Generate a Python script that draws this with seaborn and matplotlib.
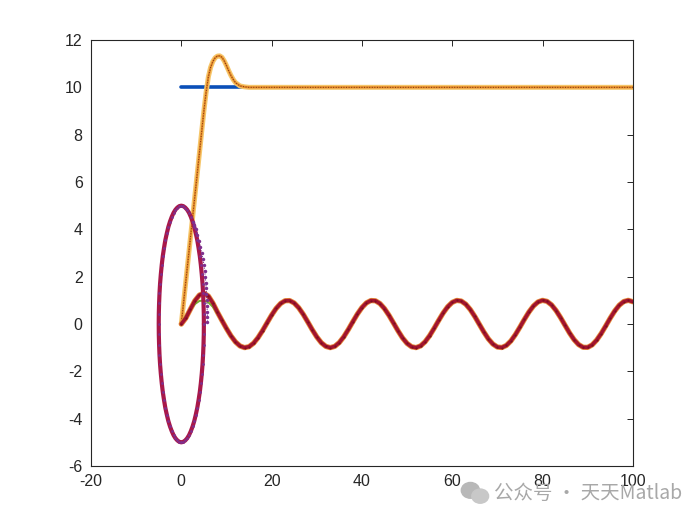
import numpy as np
import matplotlib
matplotlib.use('Agg')
import matplotlib.pyplot as plt
import seaborn as sns
from matplotlib.patches import Ellipse

# ---- data ----
# blue set-point line
ref_x = [0, 100]
ref_y = [10, 10]

# orange step response
step_x = [0, 1, 2, 3, 4, 5, 5.5, 6, 6.5, 7, 7.5, 8, 8.5, 9, 9.5, 10, 10.5, 11, 11.5, 12, 13, 14, 15, 100]
step_y = [0, 1.8, 3.6, 5.4, 7.2, 9.0, 9.8, 10.45, 10.85, 11.1, 11.25, 11.32, 11.33, 11.27, 11.12, 10.92,
          10.7, 10.5, 10.33, 10.2, 10.06, 10.02, 10.0, 10.0]

# sine reference (green) and tracked sine (red), x = 0..100
sine_x = list(range(0, 101))
sine_ref = [0.000, 0.327, 0.618, 0.841, 0.972, 0.995, 0.909, 0.723, 0.457, 0.141,
            -0.190, -0.502, -0.757, -0.929, -0.999, -0.959, -0.813, -0.576, -0.279, 0.050,
            0.374, 0.657, 0.867, 0.983, 0.989, 0.887, 0.687, 0.412, 0.091, -0.240,
            -0.544, -0.790, -0.946, -1.000, -0.944, -0.783, -0.537, -0.231, 0.100, 0.420,
            0.694, 0.892, 0.991, 0.981, 0.863, 0.650, 0.366, 0.041, -0.288, -0.588,
            -0.820, -0.961, -0.998, -0.926, -0.751, -0.494, -0.181, 0.150, 0.465, 0.729,
            0.913, 0.996, 0.970, 0.837, 0.612, 0.319, -0.009, -0.335, -0.627, -0.846,
            -0.974, -0.994, -0.906, -0.717, -0.448, -0.132, 0.199, 0.509, 0.762, 0.932,
            0.999, 0.956, 0.808, 0.570, 0.271, -0.058, -0.382, -0.663, -0.871, -0.984,
            -0.988, -0.883, -0.680, -0.404, -0.083, 0.248, 0.551, 0.794, 0.949, 1.000,
            0.941]
sine_out = [0.000, 0.250, 0.620, 0.980, 1.220, 1.300, 1.180, 0.880, 0.500, 0.150,
            -0.190, -0.502, -0.757, -0.929, -0.999, -0.959, -0.813, -0.576, -0.279, 0.050,
            0.374, 0.657, 0.867, 0.983, 0.989, 0.887, 0.687, 0.412, 0.091, -0.240,
            -0.544, -0.790, -0.946, -1.000, -0.944, -0.783, -0.537, -0.231, 0.100, 0.420,
            0.694, 0.892, 0.991, 0.981, 0.863, 0.650, 0.366, 0.041, -0.288, -0.588,
            -0.820, -0.961, -0.998, -0.926, -0.751, -0.494, -0.181, 0.150, 0.465, 0.729,
            0.913, 0.996, 0.970, 0.837, 0.612, 0.319, -0.009, -0.335, -0.627, -0.846,
            -0.974, -0.994, -0.906, -0.717, -0.448, -0.132, 0.199, 0.509, 0.762, 0.932,
            0.999, 0.956, 0.808, 0.570, 0.271, -0.058, -0.382, -0.663, -0.871, -0.984,
            -0.988, -0.883, -0.680, -0.404, -0.083, 0.248, 0.551, 0.794, 0.949, 1.000,
            0.941]

# circle path, radius 5, every 5 degrees
circ_x = [5.00, 4.98, 4.92, 4.83, 4.70, 4.53, 4.33, 4.10, 3.83, 3.54, 3.21, 2.87, 2.50, 2.11, 1.71, 1.29, 0.87, 0.44,
          0.00, -0.44, -0.87, -1.29, -1.71, -2.11, -2.50, -2.87, -3.21, -3.54, -3.83, -4.10, -4.33, -4.53, -4.70, -4.83, -4.92, -4.98,
          -5.00, -4.98, -4.92, -4.83, -4.70, -4.53, -4.33, -4.10, -3.83, -3.54, -3.21, -2.87, -2.50, -2.11, -1.71, -1.29, -0.87, -0.44,
          0.00, 0.44, 0.87, 1.29, 1.71, 2.11, 2.50, 2.87, 3.21, 3.54, 3.83, 4.10, 4.33, 4.53, 4.70, 4.83, 4.92, 4.98, 5.00]
circ_y = [0.00, 0.44, 0.87, 1.29, 1.71, 2.11, 2.50, 2.87, 3.21, 3.54, 3.83, 4.10, 4.33, 4.53, 4.70, 4.83, 4.92, 4.98,
          5.00, 4.98, 4.92, 4.83, 4.70, 4.53, 4.33, 4.10, 3.83, 3.54, 3.21, 2.87, 2.50, 2.11, 1.71, 1.29, 0.87, 0.44,
          0.00, -0.44, -0.87, -1.29, -1.71, -2.11, -2.50, -2.87, -3.21, -3.54, -3.83, -4.10, -4.33, -4.53, -4.70, -4.83, -4.92, -4.98,
          -5.00, -4.98, -4.92, -4.83, -4.70, -4.53, -4.33, -4.10, -3.83, -3.54, -3.21, -2.87, -2.50, -2.11, -1.71, -1.29, -0.87, -0.44, 0.00]

# tracked trajectory start (joins the circle near the top right)
tail_x = [5.80, 5.78, 5.75, 5.70, 5.65, 5.58, 5.50, 5.40, 5.30, 5.16, 5.00, 4.78, 4.50, 4.22, 3.90, 3.56, 3.20, 2.85, 2.50]
tail_y = [0.10, 0.30, 0.50, 0.75, 1.00, 1.25, 1.50, 1.75, 2.00, 2.25, 2.50, 2.75, 3.00, 3.25, 3.50, 3.75, 4.00, 4.17, 4.33]

xticks = [-20, 0, 20, 40, 60, 80, 100]
yticks = [-6, -4, -2, 0, 2, 4, 6, 8, 10, 12]

# ---- plot ----
sns.set_style('white')
plt.rcParams['font.family'] = ['Liberation Sans', 'DejaVu Sans']
plt.rcParams['axes.unicode_minus'] = False

fig = plt.figure(figsize=(7, 5.25), dpi=100)
ax = fig.add_axes([0.13, 0.1124, 0.774, 0.8114])

sns.lineplot(x=ref_x, y=ref_y, ax=ax, color='#0a4fb8', lw=2.6, sort=False, estimator=None)
sns.lineplot(x=step_x, y=step_y, ax=ax, color='#f6c66a', lw=3.6, sort=False, estimator=None)
sns.lineplot(x=step_x, y=step_y, ax=ax, color='#e58a2a', lw=1.6, sort=False, estimator=None)
sns.lineplot(x=step_x, y=step_y, ax=ax, color='#7a3410', lw=0.7, ls=':', sort=False, estimator=None)

sns.lineplot(x=sine_x, y=sine_out, ax=ax, color='#e58a3a', lw=3.8, sort=False, estimator=None)
sns.lineplot(x=sine_x, y=sine_ref, ax=ax, color='#77AC30', lw=1.4, sort=False, estimator=None)
sns.lineplot(x=sine_x, y=sine_out, ax=ax, color='#a2142f', lw=2.6, sort=False, estimator=None,
             marker='.', markersize=3, markeredgewidth=0, markerfacecolor='#7a1020')

sns.lineplot(x=circ_x, y=circ_y, ax=ax, color='#a8184a', lw=3.0, sort=False, estimator=None)
sns.lineplot(x=circ_x, y=circ_y, ax=ax, color='#7E2F8E', lw=0, sort=False, estimator=None,
             marker='.', markersize=4, markeredgewidth=0)
sns.lineplot(x=tail_x, y=tail_y, ax=ax, color='#7E2F8E', lw=0.8, ls=':', sort=False, estimator=None,
             marker='.', markersize=5, markeredgewidth=0)

ax.set_xlim(-20, 100)
ax.set_ylim(-6, 12)
ax.set_xticks(xticks)
ax.set_yticks(yticks)
ax.tick_params(direction='in', length=4, width=0.7, top=True, right=True,
               labelsize=11.5, labelcolor='#262626', color='#262626', pad=6)
for s in ax.spines.values():
    s.set_color('#262626')
    s.set_linewidth(0.8)

# watermark
fig.patches.append(Ellipse((0.672, 0.066), 0.026, 0.030, transform=fig.transFigure,
                           color='#b8b8b8', zorder=5))
fig.patches.append(Ellipse((0.686, 0.055), 0.024, 0.027, transform=fig.transFigure,
                           color='#c8c8c8', zorder=6))
fig.text(0.706, 0.060, '公众号 · 天天Matlab', fontsize=14, color='#a8a8a8', va='center', ha='left',
         family=['Noto Sans CJK SC', 'DejaVu Sans'])

fig.savefig('out.png', dpi=100)
